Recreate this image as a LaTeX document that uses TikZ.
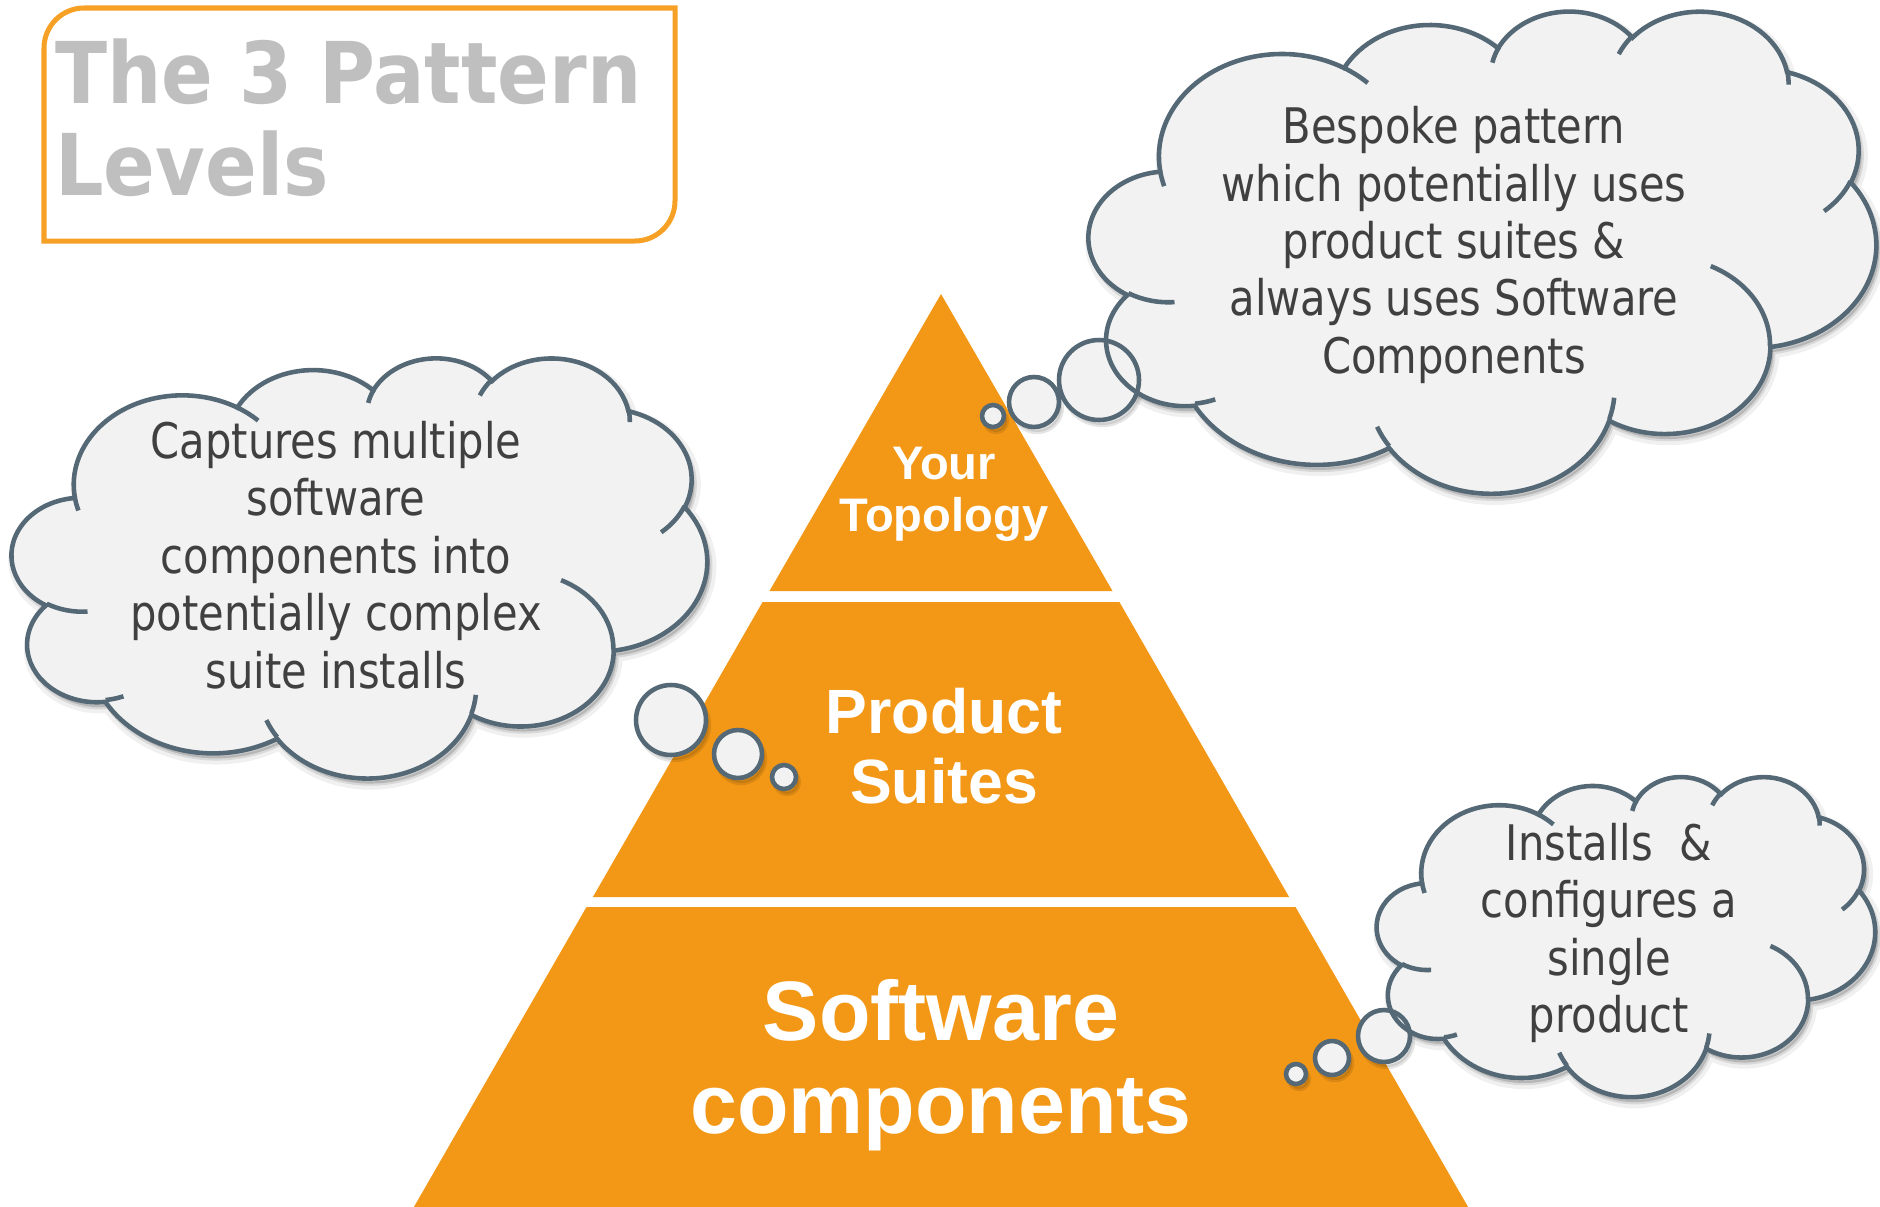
\documentclass[tikz,border=0pt]{standalone}
\usepackage{fontspec}
\usepackage{tikz}
\newfontfamily\titlefont[FakeStretch=0.895]{DejaVu Sans}
\newfontfamily\levelfont{Liberation Sans}
\newfontfamily\cloudfont[FakeStretch=0.85]{DejaVu Sans}
\definecolor{pyramidorange}{RGB}{243,152,22}
\definecolor{boxorange}{RGB}{247,160,38}
\definecolor{titlegray}{RGB}{191,191,191}
\definecolor{cloudfill}{RGB}{242,242,242}
\definecolor{cloudline}{RGB}{84,104,117}
\definecolor{cloudink}{RGB}{64,64,64}
% one arc of the cloud, as width radius, height radius, start and sweep angle
\newcommand{\cloudarc}[4]{\pgfextra{%
  \pgfmathparse{atan2((#1)*sin(#3),(#2)*cos(#3))}\xdef\arcstart{\pgfmathresult}%
  \pgfmathparse{atan2((#1)*sin((#3)+(#4)),(#2)*cos((#3)+(#4)))}\xdef\arcend{\pgfmathresult}%
  \pgfmathparse{\arcstart+mod(\arcend-\arcstart+720,360)}\xdef\arcend{\pgfmathresult}}%
  arc[start angle=\arcstart, end angle=\arcend, x radius=#1, y radius=#2]}
\newcommand{\cloudoutline}{(0.39,1.437)
  \cloudarc{0.6753}{0.9190}{-190.4875}{123.7805}
  \cloudarc{0.5333}{0.7267}{-144.1024}{89.9452}
  \cloudarc{0.4365}{0.5945}{-145.8079}{99.7230}
  \cloudarc{0.4857}{0.6595}{-130.9861}{117.2417}
  \cloudarc{0.5333}{0.7273}{-78.7089}{109.0269}
  \cloudarc{0.6775}{0.9220}{-46.2673}{130.2690}
  \cloudarc{0.5785}{0.7867}{0.6250}{114.0333}
  \cloudarc{0.6752}{0.9215}{22.4516}{115.1726}
  \cloudarc{0.7720}{1.0543}{66.2426}{75.7110}
  \cloudarc{0.4360}{0.5918}{-274.9421}{146.7356}
  \cloudarc{0.4345}{0.5945}{-246.8285}{152.5189} -- cycle}
\newcommand{\cloudfolds}{%
  (0.4693,2.6177) \cloudarc{0.4345}{0.5945}{86.742}{26.4295}
  (0.6928,3.4899) \cloudarc{0.4360}{0.5918}{73.6105}{11.4475}
  (1.6478,3.9090) \cloudarc{0.6752}{0.9215}{137.6242}{14.0811}
  (2.8827,3.4751) \cloudarc{0.6752}{0.9215}{6.4533}{15.9984}
  (3.4129,2.2954) \cloudarc{0.5785}{0.7867}{-70.2924}{70.9174}
  (4.1798,1.5354) \cloudarc{0.5333}{0.7273}{30.3180}{27.7515}
  (3.8324,0.5426) \cloudarc{0.4857}{0.6595}{-13.7443}{14.8589}
  (2.9078,0.3952) \cloudarc{0.4857}{0.6595}{-149.1815}{18.1954}
  (2.2141,0.4720) \cloudarc{0.4365}{0.5945}{-163.4943}{17.6864}
  (1.4000,0.5192) \cloudarc{0.6753}{0.9190}{-66.7070}{12.3194}
  (0.4127,1.5789) \cloudarc{0.6753}{0.9190}{157.6544}{11.8582}}
\newcommand{\cloudshadow}[4]{%
  \begin{scope}[shift={(#1+3,#2+5)}, x=1cm, y=1cm, xscale=#3*0.02/4.32, yscale=-#4*0.02/4.32]
  \path [fill=black, draw=black, opacity=0.06, line width=7pt] \cloudoutline;
  \path [fill=black, draw=black, opacity=0.1, line width=2.5pt] \cloudoutline;
  \end{scope}}
\newcommand{\thoughtcloud}[4]{%
  \begin{scope}[shift={(#1,#2)}, x=1cm, y=1cm, xscale=#3*0.02/4.32, yscale=-#4*0.02/4.32]
  \draw [cloudedge, fill=cloudfill] \cloudoutline;
  \draw [cloudedge] \cloudfolds;
  \end{scope}}
\begin{document}
\begin{tikzpicture}[x=0.02cm, y=-0.02cm]
\tikzstyle{cloudedge}=[draw=cloudline, line width=2.6pt]
\tikzstyle{bubbleshadow}=[fill=black, draw=black, opacity=0.1, line width=2.5pt]
\tikzstyle{leveltext}=[text=white, align=center, inner sep=0pt]
\tikzstyle{cloudtext}=[text=cloudink, align=center, inner sep=0pt, font=\cloudfont\fontsize{27.9}{32.7}\selectfont]
\useasboundingbox (0,0) rectangle (1880,1207);
% title
\draw [boxorange, line width=2.85pt] (44,241) -- (44,120) [rounded corners=22.8pt] -- (44,8) -- (300,8) [sharp corners] -- (675,8) -- (675,120) [rounded corners=22.8pt] -- (675,241) -- (300,241) [sharp corners] -- cycle;
\node [anchor=west, inner sep=0pt, align=left, text=titlegray, font=\titlefont\bfseries\fontsize{48.5}{52.4}\selectfont] (title) at (55,117.5) {The 3 Pattern\\Levels};
% pyramid
\fill [pyramidorange] (941,294) -- (1112.5,591) -- (769.5,591) -- cycle;
\fill [pyramidorange] (762.6,602) -- (1119.4,602) -- (1289.1,897) -- (592.9,897) -- cycle;
\fill [pyramidorange] (586.5,907) -- (1295.5,907) -- (1468.1,1207) -- (413.9,1207) -- cycle;
\node [leveltext, font=\levelfont\bfseries\fontsize{26.8}{29.6}\selectfont] (topology) at (944,494) {Your\\Topology};
\node [leveltext, font=\levelfont\bfseries\fontsize{35.6}{39.5}\selectfont] (suites) at (944,746) {Product\\Suites};
\node [leveltext, font=\levelfont\bfseries\fontsize{48}{52.8}\selectfont] (components) at (941,1065) {Software\\components};
% top right cloud
\cloudshadow{1089}{10}{787}{482}
\path [bubbleshadow] (996,421) circle [radius=0.22cm] (1037,407) circle [radius=0.5cm] (1102,385) circle [radius=0.8cm];
\fill [cloudfill] (993,416) circle [radius=0.22cm] (1034,402) circle [radius=0.5cm] (1099,380) circle [radius=0.8cm];
\thoughtcloud{1089}{10}{787}{482}
\draw [cloudedge] (993,416) circle [radius=0.22cm] (1034,402) circle [radius=0.5cm] (1099,380) circle [radius=0.8cm];
\node [cloudtext] (bespoke) at (1454,245) {Bespoke pattern\\which potentially uses\\product suites \&\\always uses Software\\Components};
% left cloud
\cloudshadow{12}{357}{695}{420}
\path [bubbleshadow] (674,725) circle [radius=0.7cm] (741,759) circle [radius=0.48cm] (787,782) circle [radius=0.24cm];
\fill [cloudfill] (671,720) circle [radius=0.7cm] (738,754) circle [radius=0.48cm] (784,777) circle [radius=0.24cm];
\thoughtcloud{12}{357}{695}{420}
\draw [cloudedge] (671,720) circle [radius=0.7cm] (738,754) circle [radius=0.48cm] (784,777) circle [radius=0.24cm];
\node [cloudtext] (captures) at (336,555) {Captures multiple\\software\\components into\\potentially complex\\suite installs};
% bottom right cloud
\cloudshadow{1377}{776}{498}{320}
\path [bubbleshadow] (1299,1079) circle [radius=0.2cm] (1335,1063) circle [radius=0.34cm] (1387,1041) circle [radius=0.52cm];
\fill [cloudfill] (1296,1074) circle [radius=0.2cm] (1332,1058) circle [radius=0.34cm] (1384,1036) circle [radius=0.52cm];
\thoughtcloud{1377}{776}{498}{320}
\draw [cloudedge] (1296,1074) circle [radius=0.2cm] (1332,1058) circle [radius=0.34cm] (1384,1036) circle [radius=0.52cm];
\node [cloudtext] (installs) at (1609,933) {Installs~~\&\\configures a\\single\\product};
\end{tikzpicture}
\end{document}
